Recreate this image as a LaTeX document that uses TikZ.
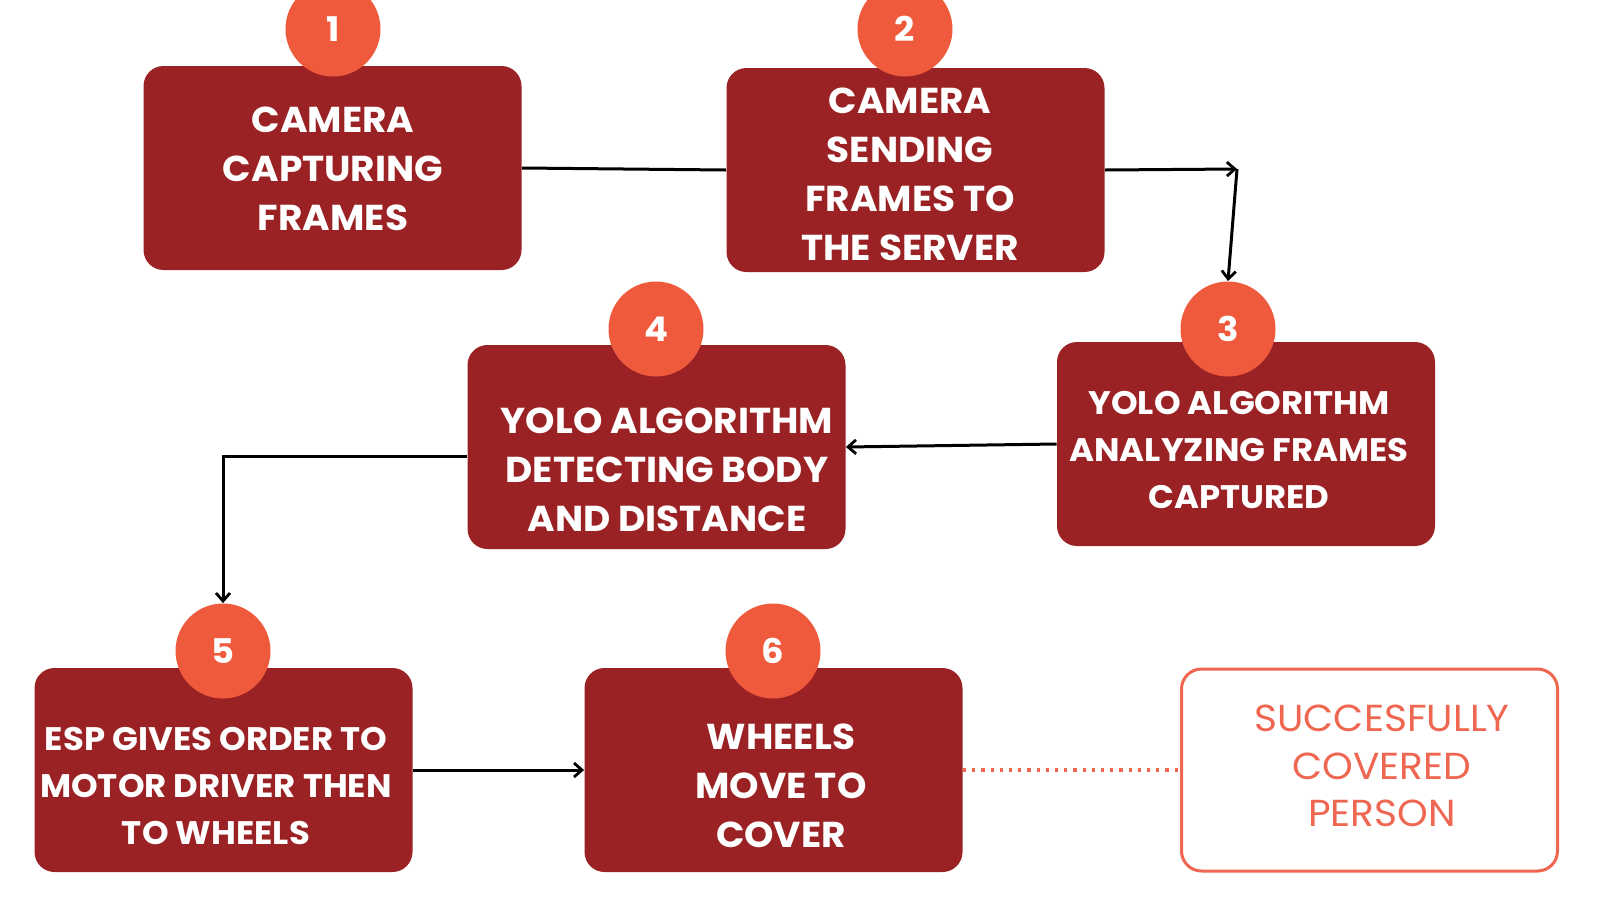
\documentclass[tikz,border=0pt]{standalone}
\usepackage{fontspec}
\setmainfont{Poppins}
\newfontfamily\stepfont[FakeStretch=1.04]{Poppins}
\usetikzlibrary{arrows.meta}
\definecolor{boxred}{HTML}{9B2224}
\definecolor{badge}{HTML}{F05A3C}
\definecolor{outline}{HTML}{EF6651}
\begin{document}
\begin{tikzpicture}[x=0.5pt,y=-0.5pt,
  stepbox/.style={fill=boxred, rounded corners=10pt, minimum width=189pt,
    minimum height=102pt, inner sep=0pt},
  endbox/.style={draw=outline, line width=1.5pt, fill=white, rounded corners=10pt,
    minimum width=188pt, minimum height=101pt, inner sep=0pt},
  badgecirc/.style={circle, fill=badge, minimum size=47.5pt, inner sep=0pt,
    text=white, font=\stepfont\bfseries\fontsize{17}{20}\selectfont},
  steptext/.style={text=white, align=center, inner sep=0pt,
    font=\stepfont\bfseries\fontsize{16.3}{23.5}\selectfont},
  largetext/.style={steptext, font=\stepfont\bfseries\fontsize{18}{24.5}\selectfont},
  endtext/.style={text=outline, align=center, inner sep=0pt,
    font=\stepfont\fontsize{18.8}{23.7}\selectfont},
  conn/.style={line width=1.5pt, black},
  arr/.style={-{Straight Barb[length=4pt,width=7pt,line width=1.4pt]}},
  dotline/.style={draw=outline, line width=2pt, dash pattern=on 1.6pt off 3pt}]
\useasboundingbox (0,0) rectangle (1600,906);

% process boxes
\node[stepbox] (b1) at (332.5,168) {};
\node[stepbox] (b2) at (915.5,170) {};
\node[stepbox] (b3) at (1246,444) {};
\node[stepbox] (b4) at (656.5,447) {};
\node[stepbox] (b5) at (223.5,770) {};
\node[stepbox] (b6) at (773.5,770) {};
\node[endbox]  (b7) at (1369.5,770) {};

% box labels
\node[largetext] (t1) at (333,169) {CAMERA\\CAPTURING\\FRAMES};
\node[largetext] (t2) at (910,174) {CAMERA\\SENDING\\FRAMES TO\\THE SERVER};
\node[steptext]  (t3) at (1239,450) {YOLO ALGORITHM\\ANALYZING FRAMES\\CAPTURED};
\node[largetext] (t4) at (667,470) {YOLO ALGORITHM\\DETECTING BODY\\AND DISTANCE};
\node[steptext]  (t5) at (216,786) {ESP GIVES ORDER TO\\MOTOR DRIVER THEN\\TO WHEELS};
\node[largetext] (t6) at (781,786) {WHEELS\\MOVE TO\\COVER};
\node[endtext]   (t7) at (1382,766) {SUCCESFULLY\\COVERED\\PERSON};

% numbered badges
\node[badgecirc] (c1) at (333,29) {1};
\node[badgecirc] (c2) at (905,29) {2};
\node[badgecirc] (c3) at (1228,329) {3};
\node[badgecirc] (c4) at (656,329) {4};
\node[badgecirc] (c5) at (223,651) {5};
\node[badgecirc] (c6) at (773,651) {6};

% connectors
\coordinate (k1) at (1237,169);
\coordinate (k2) at (223,456);
\draw[conn] (b1.east) -- (b2.west);
\draw[conn,arr] (b2.east) -- (k1);
\draw[conn,arr] (k1) -- (c3.north);
\draw[conn,arr] (b3.west) -- (b4.east);
\draw[conn,arr] (k2 -| b4.west) -- (k2) -- (c5.north);
\draw[conn,arr] (b5.east) -- (b6.west);
\draw[dotline] (b6.east) -- (b7.west);
\end{tikzpicture}
\end{document}
